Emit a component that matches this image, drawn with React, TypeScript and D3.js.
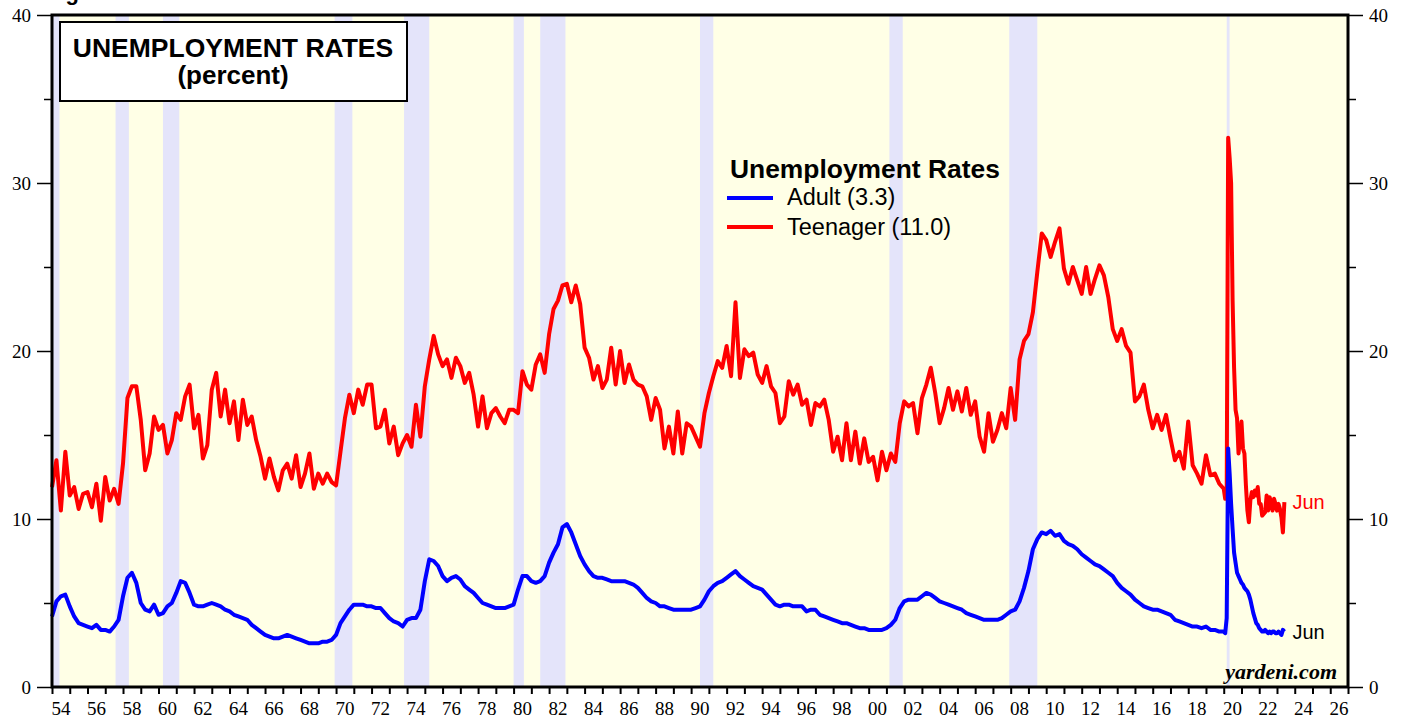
import React, { useEffect, useRef } from 'react'
import * as d3 from 'd3'

// adult (20+) unemployment rate, quarterly from 1954 (first month of each quarter)
const adult1950s = [
  4.2, 5.1, 5.4, 5.5, 4.8, 4.2, 3.8, 3.7, 3.6, 3.5, 3.7, 3.4,
  3.4, 3.3, 3.6, 4.0, 5.4, 6.5, 6.8, 6.2, 5.0, 4.6, 4.5, 4.9,
]
const adult1960s = [
  4.3, 4.4, 4.8, 5.0, 5.6, 6.3, 6.2, 5.6, 4.9, 4.8, 4.8, 4.9,
  5.0, 4.9, 4.8, 4.6, 4.5, 4.3, 4.2, 4.1, 4.0, 3.7, 3.5, 3.3,
  3.1, 3.0, 2.9, 2.9, 3.0, 3.1, 3.0, 2.9, 2.8, 2.7, 2.6, 2.6,
  2.6, 2.7, 2.7, 2.8,
]
const adult1970s = [
  3.1, 3.8, 4.2, 4.6, 4.9, 4.9, 4.9, 4.8, 4.8, 4.7, 4.7, 4.4,
  4.1, 3.9, 3.8, 3.6, 4.0, 4.1, 4.1, 4.6, 6.3, 7.6, 7.5, 7.2,
  6.6, 6.3, 6.5, 6.6, 6.4, 6.0, 5.8, 5.6, 5.3, 5.0, 4.9, 4.8,
  4.7, 4.7, 4.7, 4.8,
]
const adult1980s = [
  4.9, 5.8, 6.6, 6.6, 6.3, 6.2, 6.3, 6.6, 7.4, 8.0, 8.5, 9.5,
  9.7, 9.2, 8.5, 7.8, 7.3, 6.9, 6.6, 6.5, 6.5, 6.4, 6.3, 6.3,
  6.3, 6.3, 6.2, 6.1, 5.9, 5.6, 5.3, 5.1, 5.0, 4.8, 4.8, 4.7,
  4.6, 4.6, 4.6, 4.6,
]
const adult1990s = [
  4.6, 4.7, 4.8, 5.2, 5.7, 6.0, 6.2, 6.3, 6.5, 6.7, 6.9, 6.6,
  6.4, 6.2, 6.0, 5.9, 5.8, 5.5, 5.2, 4.9, 4.8, 4.9, 4.9, 4.8,
  4.8, 4.8, 4.5, 4.6, 4.6, 4.3, 4.2, 4.1, 4.0, 3.9, 3.8, 3.8,
  3.7, 3.6, 3.5, 3.5,
]
const adult2000s = [
  3.4, 3.4, 3.4, 3.4, 3.5, 3.7, 4.0, 4.7, 5.1, 5.2, 5.2, 5.2,
  5.4, 5.6, 5.5, 5.3, 5.1, 5.0, 4.9, 4.8, 4.7, 4.6, 4.4, 4.3,
  4.2, 4.1, 4.0, 4.0, 4.0, 4.0, 4.1, 4.3, 4.5, 4.6, 5.1, 5.9,
  6.9, 8.2, 8.8, 9.2,
]
const adult2010s = [
  9.1, 9.3, 9.0, 9.1, 8.7, 8.5, 8.4, 8.2, 7.9, 7.7, 7.5, 7.3,
  7.2, 7.0, 6.8, 6.6, 6.2, 5.9, 5.7, 5.5, 5.2, 5.0, 4.8, 4.7,
  4.6, 4.6, 4.5, 4.4, 4.3, 4.0, 3.9, 3.8, 3.7, 3.6, 3.6, 3.5,
  3.6, 3.4, 3.4, 3.3,
]
// monthly, Jan 2020 - Jun 2023
const adult2020s = [
  3.3, 3.2, 4.1, 14.2, 12.7, 10.9, 9.4, 8.0, 7.4, 6.8, 6.6, 6.4,
  6.2, 6.1, 5.9, 5.8, 5.7, 5.5, 5.2, 4.8, 4.4, 4.1, 3.8, 3.7,
  3.5, 3.4, 3.3, 3.3, 3.4, 3.3, 3.2, 3.3, 3.2, 3.3, 3.3, 3.2,
  3.2, 3.3, 3.2, 3.1, 3.4, 3.3,
]

// teenager (16-19) unemployment rate, same spacing
const teen1950s = [
  11.9, 13.5, 10.5, 14.0, 11.4, 11.9, 10.6, 11.5, 11.6, 10.7, 12.1, 9.9,
  12.5, 11.1, 11.8, 10.9, 13.3, 17.2, 17.9, 17.9, 15.9, 12.9, 13.9, 16.1,
]
const teen1960s = [
  15.3, 15.6, 13.9, 14.7, 16.3, 15.9, 17.3, 18.0, 15.4, 16.2, 13.6, 14.4,
  17.7, 18.7, 16.1, 17.7, 15.7, 17.0, 14.7, 17.1, 15.6, 16.1, 14.7, 13.7,
  12.4, 13.6, 12.5, 11.7, 12.9, 13.3, 12.4, 13.8, 11.9, 12.7, 13.9, 11.8,
  12.7, 12.1, 12.7, 12.2,
]
const teen1970s = [
  12.0, 14.0, 16.0, 17.4, 16.3, 17.7, 16.8, 18.0, 18.0, 15.4, 15.5, 16.5,
  14.5, 15.5, 13.8, 14.5, 15.0, 14.3, 16.8, 14.9, 17.9, 19.5, 20.9, 19.8,
  19.1, 19.5, 18.4, 19.6, 19.1, 18.1, 18.7, 17.4, 15.5, 17.3, 15.4, 16.3,
  16.6, 16.1, 15.7, 16.5,
]
const teen1980s = [
  16.5, 16.3, 18.8, 18.0, 17.7, 19.2, 19.8, 18.7, 21.0, 22.5, 23.0, 23.9,
  24.0, 22.9, 23.9, 22.8, 20.2, 19.6, 18.3, 19.1, 17.8, 18.3, 20.2, 18.0,
  20.0, 18.1, 19.2, 18.3, 18.0, 17.9, 17.3, 15.9, 17.2, 16.5, 14.2, 15.5,
  13.9, 16.4, 13.9, 15.7,
]
const teen1990s = [
  15.5, 14.9, 14.3, 16.3, 17.5, 18.5, 19.4, 19.0, 20.3, 18.5, 22.9, 18.4,
  20.1, 19.7, 19.9, 18.6, 18.1, 19.1, 17.9, 17.5, 15.7, 16.1, 18.2, 17.4,
  18.0, 16.8, 17.1, 15.6, 16.9, 16.7, 17.1, 15.9, 14.0, 14.9, 13.5, 15.7,
  13.5, 15.2, 13.3, 14.8,
]
const teen2000s = [
  13.4, 13.7, 12.3, 14.0, 12.9, 13.9, 13.4, 15.7, 17.0, 16.7, 16.9, 15.1,
  17.2, 18.0, 19.0, 17.5, 15.7, 16.6, 17.8, 16.5, 17.6, 16.4, 17.8, 16.2,
  17.0, 14.9, 14.0, 16.3, 14.6, 15.3, 16.3, 15.4, 17.8, 15.9, 19.5, 20.6,
  21.0, 22.3, 24.7, 27.0,
]
const teen2010s = [
  26.6, 25.6, 26.5, 27.3, 24.9, 24.0, 25.0, 24.2, 23.4, 25.0, 23.4, 24.3,
  25.1, 24.5, 23.2, 21.3, 20.6, 21.3, 20.3, 19.9, 17.0, 17.3, 18.0, 16.5,
  15.4, 16.2, 15.3, 16.2, 14.8, 13.5, 14.0, 13.0, 15.8, 13.2, 12.7, 12.1,
  13.8, 12.6, 12.7, 12.1,
]
const teen2020s = [
  11.8, 11.2, 11.4, 32.7, 31.5, 30.0, 23.0, 19.0, 16.5, 16.0, 13.9, 14.8,
  15.8, 14.2, 13.9, 12.0, 10.5, 9.8, 11.1, 11.6, 11.3, 11.7, 11.4, 11.9,
  10.9, 10.9, 10.2, 10.3, 10.4, 11.4, 10.5, 11.3, 11.0, 10.5, 11.2, 10.9,
  10.5, 10.9, 10.6, 10.1, 9.2, 11.0,
]

// NBER recessions (peak month to trough month)
const recessionStarts = [1953.5, 1957.58, 1960.25, 1969.92, 1973.83, 1980.0, 1981.5, 1990.5, 2001.17, 2007.92, 2020.17]
const recessionEnds = [1954.42, 1958.33, 1961.17, 1970.92, 1975.25, 1980.58, 1982.92, 1991.25, 2001.92, 2009.5, 2020.33]

const yMajor = [0, 10, 20, 30, 40]
const yMinor = [5, 15, 25, 35]
const yearTicks = d3.range(1954, 2028)
const yearLabels = d3.range(1954, 2027, 2)

const legendNames = ['Adult', 'Teenager']
const lastLabel = 'Jun'

const SANS = "'Liberation Sans', Arial, Helvetica, sans-serif"
const SERIF = "'Liberation Serif', 'Times New Roman', serif"

const toSeries = (quarterly: number[], monthly: number[]) => [
  ...quarterly.map((v, i) => ({ t: 1954 + i / 4, v })),
  ...monthly.map((v, i) => ({ t: 2020 + i / 12, v })),
]

const adult = toSeries(
  [...adult1950s, ...adult1960s, ...adult1970s, ...adult1980s, ...adult1990s, ...adult2000s, ...adult2010s],
  adult2020s
)
const teen = toSeries(
  [...teen1950s, ...teen1960s, ...teen1970s, ...teen1980s, ...teen1990s, ...teen2000s, ...teen2010s],
  teen2020s
)

const YAxis = ({ scale, side, transform }) => {
  const ref = useRef<SVGGElement>(null)

  useEffect(() => {
    if (!ref.current) return
    const g = d3.select(ref.current)
    g.selectAll('*').remove()
    const make = side === 'left' ? d3.axisLeft : d3.axisRight
    g.append('g').call(make(scale).tickValues(yMinor).tickSize(8).tickFormat(() => ''))
    g.append('g').call(make(scale).tickValues(yMajor).tickSize(15).tickPadding(6))
    g.selectAll('.domain').remove()
    g.selectAll('.tick line').attr('stroke', '#000').attr('stroke-width', 1.5)
    g.selectAll('.tick text')
      .attr('font-family', SERIF)
      .attr('font-size', 19)
      .attr('fill', '#000')
  }, [scale, side])

  return <g ref={ref} transform={transform} />
}

const XAxis = ({ scale, transform }) => {
  const ref = useRef<SVGGElement>(null)

  useEffect(() => {
    if (!ref.current) return
    const g = d3.select(ref.current)
    g.selectAll('*').remove()
    g.call(d3.axisBottom(scale).tickValues(yearTicks).tickSize(7).tickFormat(() => ''))
    g.select('.domain').remove()
    g.selectAll('.tick line').attr('stroke', '#000').attr('stroke-width', 2)
    // year labels sit in the middle of each year
    g.selectAll('text.yr')
      .data(yearLabels)
      .join('text')
      .attr('class', 'yr')
      .attr('x', (d) => scale(d + 0.5))
      .attr('y', 28)
      .attr('text-anchor', 'middle')
      .attr('font-family', SERIF)
      .attr('font-size', 19)
      .attr('fill', '#000')
      .text((d) => String(d % 100).padStart(2, '0'))
  }, [scale])

  return <g ref={ref} transform={transform} />
}

export default function App() {
  const W = 1407
  const H = 721
  const left = 52
  const right = 1348
  const top = 15
  const bottom = 687

  const x = d3.scaleLinear().domain([1954, 2027]).range([left, right])
  const y = d3.scaleLinear().domain([0, 40]).range([bottom, top])

  const line = d3
    .line<{ t: number; v: number }>()
    .x((d) => x(d.t))
    .y((d) => y(d.v))

  const lastAdult = adult[adult.length - 1]
  const lastTeen = teen[teen.length - 1]

  return (
    <svg width={W} height={H} style={{ position: 'absolute', left: 0, top: 0, background: '#fff' }}>
      {/* header of the source page, cut off at the top edge as in the original */}
      <text x={46} y={0} fontFamily={SANS} fontWeight="bold" fontSize={22} fill="#000">
        Figure 1.
      </text>

      <rect x={left} y={top} width={right - left} height={bottom - top} fill="#FFFFE6" />
      {recessionStarts.map((s, i) => (
        <rect
          key={`rec-${i}`}
          x={x(Math.max(s, 1954))}
          y={top}
          width={x(recessionEnds[i]) - x(Math.max(s, 1954))}
          height={bottom - top}
          fill="#E4E4FA"
        />
      ))}

      <path d={line(teen)} fill="none" stroke="#FF0000" strokeWidth={4} strokeLinejoin="round" />
      <path d={line(adult)} fill="none" stroke="#0000FF" strokeWidth={4} strokeLinejoin="round" />

      <text x={x(lastTeen.t) + 8} y={y(lastTeen.v) + 7} fontFamily={SANS} fontSize={20} fill="#FF0000">
        {lastLabel}
      </text>
      <text x={x(lastAdult.t) + 8} y={y(lastAdult.v) + 7} fontFamily={SANS} fontSize={20} fill="#000">
        {lastLabel}
      </text>

      <rect x={60} y={22} width={347} height={79} fill="#fff" stroke="#000" strokeWidth={2} />
      <text x={233} y={57} textAnchor="middle" fontFamily={SANS} fontWeight="bold" fontSize={26.5} fill="#000">
        UNEMPLOYMENT RATES
      </text>
      <text x={233} y={84} textAnchor="middle" fontFamily={SANS} fontWeight="bold" fontSize={26} fill="#000">
        (percent)
      </text>

      <g fontFamily={SANS} fill="#000">
        <text x={730} y={178} fontWeight="bold" fontSize={26.4}>
          Unemployment Rates
        </text>
        <line x1={727} x2={773} y1={198} y2={198} stroke="#0000FF" strokeWidth={4} />
        <text x={787} y={205} fontSize={23.5}>
          {`${legendNames[0]} (${lastAdult.v.toFixed(1)})`}
        </text>
        <line x1={727} x2={773} y1={227} y2={227} stroke="#FF0000" strokeWidth={4} />
        <text x={787} y={235} fontSize={23.5}>
          {`${legendNames[1]} (${lastTeen.v.toFixed(1)})`}
        </text>
      </g>

      <text
        x={1337}
        y={679}
        textAnchor="end"
        fontFamily={SERIF}
        fontWeight="bold"
        fontStyle="italic"
        fontSize={22}
        fill="#000"
      >
        yardeni.com
      </text>

      <rect x={left} y={top} width={right - left} height={bottom - top} fill="none" stroke="#000" strokeWidth={3} />

      <YAxis scale={y} side="left" transform={`translate(${left},0)`} />
      <YAxis scale={y} side="right" transform={`translate(${right},0)`} />
      <XAxis scale={x} transform={`translate(0,${bottom})`} />
    </svg>
  )
}
